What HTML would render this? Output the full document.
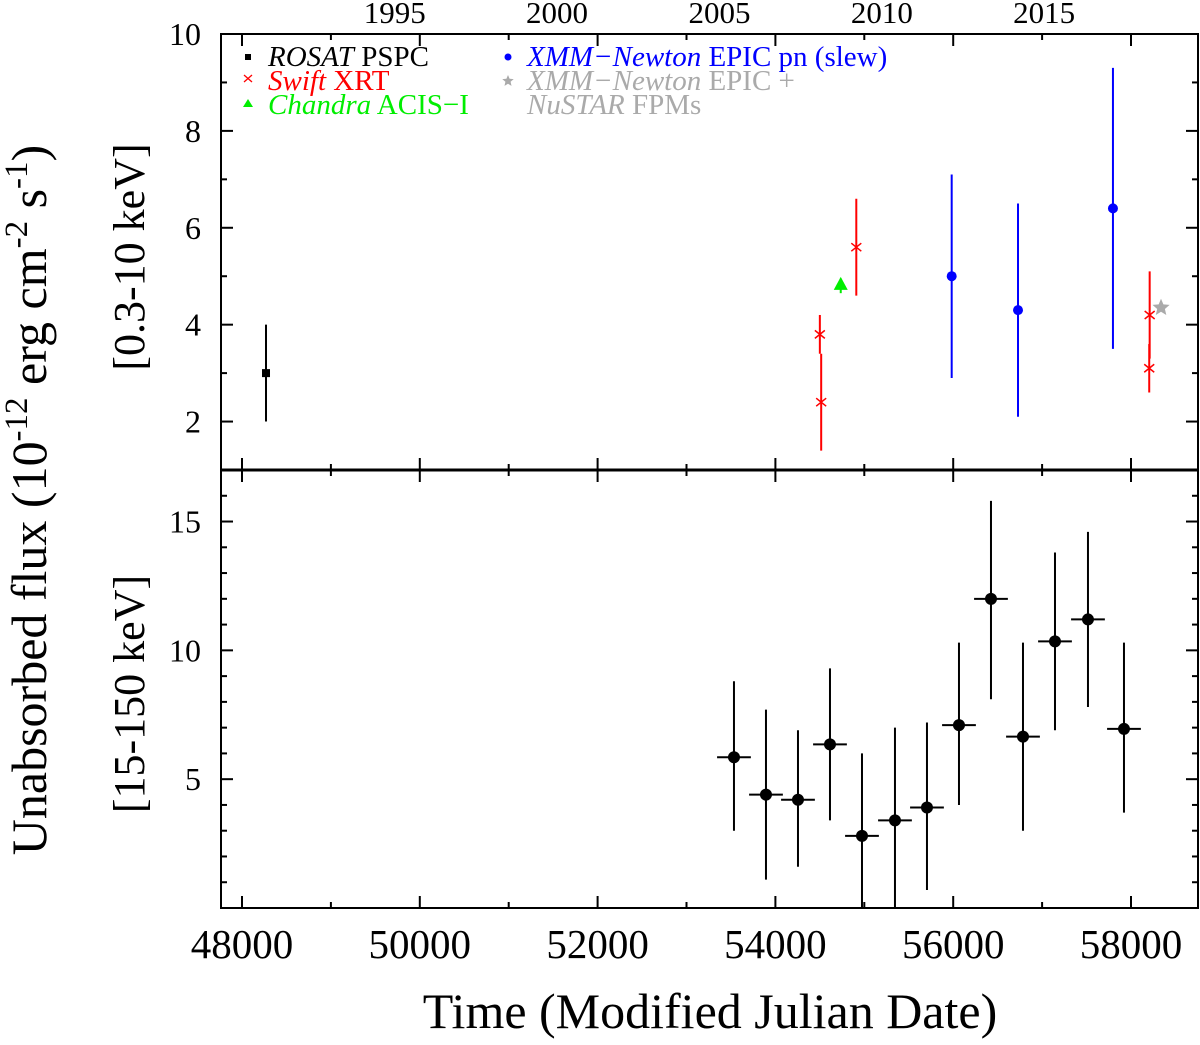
<!DOCTYPE html>
<html><head><meta charset="utf-8"><style>
html,body{margin:0;padding:0;background:#fff}
svg{display:block;font-family:"Liberation Serif",serif}
</style></head><body>
<svg id="chart" width="1200" height="1045" viewBox="0 0 1200 1045" xmlns="http://www.w3.org/2000/svg">
<g id="g"></g>
</svg>
<script>
// ---- data ----
const rosatMjd=[48270], rosatFlux=[3.0], rosatLo=[2.0], rosatHi=[4.0];
const swiftMjd=[54500,54515,54910,58210,58205], swiftFlux=[3.8,2.4,5.6,4.2,3.1], swiftLo=[3.4,1.4,4.6,3.3,2.6], swiftHi=[4.2,3.4,6.6,5.1,3.6];
const chandraMjd=[54735], chandraFlux=[4.8], chandraLo=[4.65], chandraHi=[4.95];
const xmmMjd=[55983,56729,57797], xmmFlux=[5.0,4.3,6.4], xmmLo=[2.9,2.1,3.5], xmmHi=[7.1,6.5,9.3];
const nuMjd=[58338], nuFlux=[4.35];
const batMjd=[53534,53894,54254,54614,54974,55345,55705,56065,56425,56785,57145,57516,57921];
const batFlux=[5.85,4.4,4.2,6.35,2.8,3.4,3.9,7.1,12.0,6.65,10.35,11.2,6.95];
const batLo=[3.0,1.1,1.6,3.4,0,0,0.7,4.0,8.1,3.0,6.9,7.8,3.7];
const batHi=[8.8,7.7,6.9,9.3,6.0,7.0,7.2,10.3,15.8,10.3,13.8,14.6,10.3];
const batHalfWidth=[190,190,190,190,190,190,190,190,190,190,190,190,190];
const xTicks=[48000,50000,52000,54000,56000,58000];
const yearTicks=[1995,2000,2005,2010,2015];
const yearMjd=[49718,51544,53371,55197,57023];
const topTicks=[2,4,6,8,10];
const botTicks=[5,10,15];

// ---- scales ----
const L=221,R=1198,T=34,M=470,B=908;
const X=m=>242+(m-48000)*0.0889;
const Yt=v=>T+(10-v)*(M-T)/9;
const Yb=v=>B-v*(B-M)/17;
const NS='http://www.w3.org/2000/svg';
const g=document.getElementById('g');
function el(t,a,txt){const e=document.createElementNS(NS,t);for(const k in a)e.setAttribute(k,a[k]);if(txt!==undefined)e.textContent=txt;g.appendChild(e);return e;}
function line(x1,y1,x2,y2,c,w){return el('line',{x1,y1,x2,y2,stroke:c,'stroke-width':w||2});}

// frame
let f=el('rect',{x:L,y:T,width:R-L,height:B-T,fill:'none',stroke:'#000','stroke-width':2});

let d=line(L,M,R,M,'#000',3);


// x ticks
for(let m=48000;m<=58000;m+=1000){
  const x=X(m),len=(m%2000===0)?12:6;
  line(x,B,x,B-len,'#000',2);line(x,M,x,M-len,'#000',2);line(x,M,x,M+len,'#000',2);line(x,T,x,T+len,'#000',2);
}
xTicks.forEach(m=>{const t=el('text',{x:X(m),y:958,'font-size':41,'text-anchor':'middle'},String(m));
});
yearTicks.forEach((y,i)=>{const t=el('text',{x:X(yearMjd[i]),y:23,'font-size':31,'text-anchor':'middle'},String(y));
});
// y ticks
for(let v=1;v<=10;v++){const y=Yt(v),len=(v%2===0)?12:6;line(L,y,L+len,y,'#000',2);line(R,y,R-len,y,'#000',2);}
topTicks.forEach(v=>{const t=el('text',{x:201,y:Yt(v)+11,'font-size':32,'text-anchor':'end'},String(v));
});
for(let v=1;v<=16;v++){const y=Yb(v),len=(v%5===0)?12:6;line(L,y,L+len,y,'#000',2);line(R,y,R-len,y,'#000',2);}
botTicks.forEach(v=>{const t=el('text',{x:201,y:Yb(v)+11,'font-size':32,'text-anchor':'end'},String(v));
});

// titles
let xt=el('text',{x:710,y:1028,'font-size':50,'text-anchor':'middle'},'Time (Modified Julian Date)');

let yt=el('text',{transform:'translate(46,500) rotate(-90)','font-size':50,'text-anchor':'middle'});
yt.innerHTML='Unabsorbed flux (10<tspan dy="-19" font-size="33">-12</tspan><tspan dy="19"> erg cm</tspan><tspan dy="-19" font-size="33">-2</tspan><tspan dy="19"> s</tspan><tspan dy="-19" font-size="33">-1</tspan><tspan dy="19">)</tspan>';

let p1=el('text',{transform:'translate(144,257) rotate(-90)','font-size':44,'text-anchor':'middle'},'[0.3-10 keV]');

let p2=el('text',{transform:'translate(144,694) rotate(-90)','font-size':44,'text-anchor':'middle'},'[15-150 keV]');


// markers
function cross(x,y,c){return el('path',{d:`M${x-5},${y-4}L${x+5},${y+4}M${x-5},${y+4}L${x+5},${y-4}`,stroke:c,'stroke-width':1.5,fill:'none'});}
function star(x,y,r,c){let s='';for(let i=0;i<10;i++){const a=-Math.PI/2+i*Math.PI/5,rr=i%2?r*0.45:r;s+=(i?'L':'M')+(x+rr*Math.cos(a)).toFixed(1)+','+(y+rr*Math.sin(a)).toFixed(1);}return el('path',{d:s+'Z',fill:c});}

rosatMjd.forEach((m,i)=>{const x=X(m);let e=line(x,Yt(rosatLo[i]),x,Yt(rosatHi[i]),'#000',2);

let p=el('rect',{x:x-4,y:Yt(rosatFlux[i])-4,width:8,height:8,fill:'#000'});
});
swiftMjd.forEach((m,i)=>{const x=X(m);let e=line(x,Yt(swiftLo[i]),x,Yt(swiftHi[i]),'#f00',2);

let p=cross(x,Yt(swiftFlux[i]),'#f00');
});
chandraMjd.forEach((m,i)=>{const x=X(m);let e=line(x,Yt(chandraLo[i]),x,Yt(chandraHi[i]),'#0e0',2);

const y=Yt(chandraFlux[i]);let p=el('path',{d:`M${x},${y-9}L${x+7},${y+4}L${x-7},${y+4}Z`,fill:'#0e0'});
});
xmmMjd.forEach((m,i)=>{const x=X(m);let e=line(x,Yt(xmmLo[i]),x,Yt(xmmHi[i]),'#00f',2);

let p=el('circle',{cx:x,cy:Yt(xmmFlux[i]),r:5,fill:'#00f'});
});
nuMjd.forEach((m,i)=>{let p=star(X(m),Yt(nuFlux[i]),9,'#aaa');
});
batMjd.forEach((m,i)=>{const x=X(m),y=Yb(batFlux[i]);
let e=line(x,Yb(batLo[i]),x,Yb(batHi[i]),'#000',2);

let h=line(X(m-batHalfWidth[i]),y,X(m+batHalfWidth[i]),y,'#000',2);

let p=el('circle',{cx:x,cy:y,r:6,fill:'#000'});
});

// legend
function leg(name,html,x,y,color){const t=el('text',{x,y,'font-size':29,fill:color});t.innerHTML=html;
return t;}
el('rect',{x:245,y:54,width:6,height:6,fill:'#000'});
leg('legend-rosat','<tspan font-style="italic">ROSAT</tspan> PSPC',268,66,'#000');
el('path',{d:'M244,75L252,82M244,82L252,75',stroke:'#f00','stroke-width':1.3});
leg('legend-swift','<tspan font-style="italic">Swift</tspan> XRT',268,90,'#f00');
el('path',{d:'M248,99L253,107L243,107Z',fill:'#0e0'});
leg('legend-chandra','<tspan font-style="italic">Chandra</tspan> ACIS−I',268,114,'#0e0');
el('circle',{cx:508,cy:57,r:3.5,fill:'#00f'});
leg('legend-xmm','<tspan font-style="italic">XMM−Newton</tspan> EPIC pn (slew)',527,66,'#00f');
star(508,81,6,'#aaa');
leg('legend-xmm-nustar','<tspan font-style="italic">XMM−Newton</tspan> EPIC +',527,90,'#aaa');
leg('legend-nustar','<tspan font-style="italic">NuSTAR</tspan> FPMs',527,114,'#aaa');
</script>
</body></html>
